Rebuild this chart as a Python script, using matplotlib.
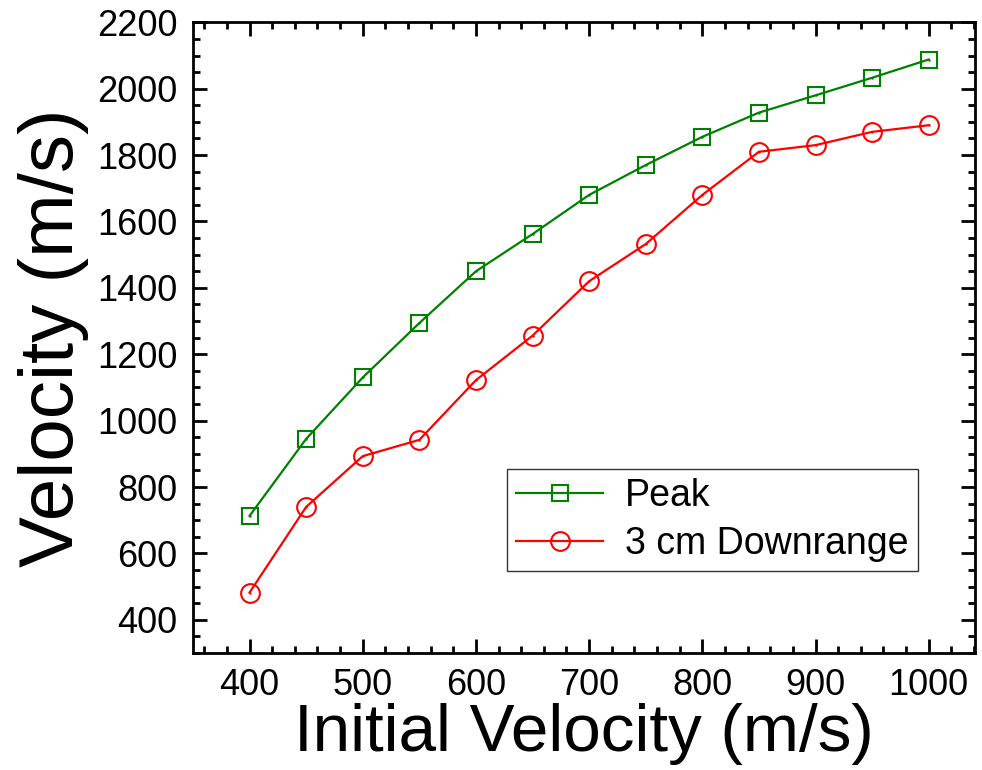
import matplotlib
matplotlib.use("Agg")
import matplotlib.pyplot as plt
from matplotlib.ticker import MultipleLocator

initial_v = [400, 450, 500, 550, 600, 650, 700, 750, 800, 850, 900, 950, 1000]
peak = [713, 945, 1130, 1294, 1450, 1562, 1680, 1770, 1855, 1928, 1980, 2033, 2088]
downrange = [482, 740, 893, 942, 1122, 1256, 1420, 1532, 1680, 1810, 1830, 1870, 1890]

plt.rcParams['font.family'] = ['Liberation Sans', 'DejaVu Sans']

fig = plt.figure(figsize=(9.82, 7.7), dpi=100)
ax = fig.add_axes([0.1965, 0.152, 0.7965, 0.819])

# series: open markers with a small dot in the middle
ax.plot(initial_v, peak, color="green", lw=1.6, marker="s", ms=11.5,
        mfc="none", mec="green", mew=1.5, label="Peak")
ax.plot(initial_v, peak, ls="none", marker=".", ms=1.5, color="green")
ax.plot(initial_v, downrange, color="red", lw=1.6, marker="o", ms=13.5,
        mfc="none", mec="red", mew=1.5, label="3 cm Downrange")
ax.plot(initial_v, downrange, ls="none", marker=".", ms=1.5, color="red")

ax.set_xlim(350, 1041)
ax.set_ylim(300, 2200)
ax.xaxis.set_major_locator(MultipleLocator(100))
ax.xaxis.set_minor_locator(MultipleLocator(20))
ax.yaxis.set_major_locator(MultipleLocator(200))
ax.yaxis.set_minor_locator(MultipleLocator(50))
ax.tick_params(which="both", direction="in", top=True, right=True,
               width=2, labelsize=26)
ax.tick_params(which="major", length=10, pad=11)
ax.tick_params(which="minor", length=5)
for s in ax.spines.values():
    s.set_linewidth(2)

ax.set_xlabel("Initial Velocity (m/s)", fontsize=48.5, labelpad=0)
ax.set_ylabel("Velocity (m/s)", fontsize=55, labelpad=6)

leg = ax.legend(loc="upper left", bbox_to_anchor=(0.4015, 0.2916), fontsize=27,
                fancybox=False, edgecolor="#333333", framealpha=1,
                handlelength=2.3, borderpad=0.25, labelspacing=0.3,
                handletextpad=0.6, borderaxespad=0)
leg.get_frame().set_linewidth(1)

fig.savefig("out.png", dpi=100)
